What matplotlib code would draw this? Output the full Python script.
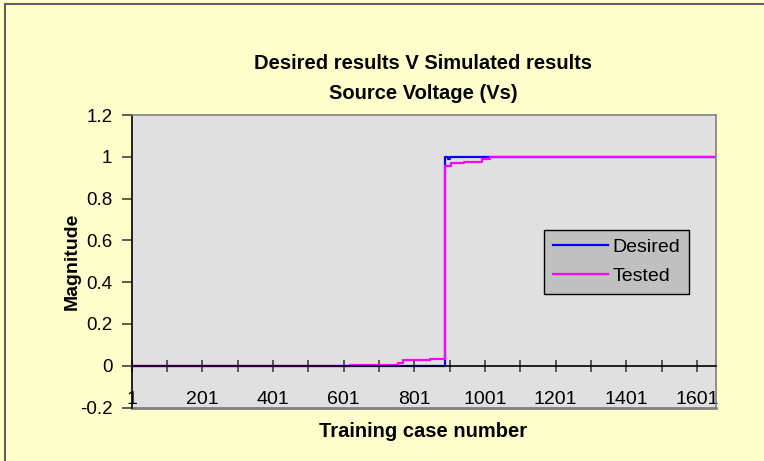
import matplotlib
matplotlib.use("Agg")
import matplotlib.pyplot as plt

plt.rcParams['font.family'] = ['Liberation Sans', 'DejaVu Sans']

# step breakpoints (training case number, magnitude)
desired_x = [1, 887, 897, 902, 1654]
desired_y = [0, 1.0, 0.99, 1.0, 1.0]
tested_x = [1, 620, 755, 768, 845, 887, 906, 941, 992, 1015, 1654]
tested_y = [0, 0.005, 0.013, 0.026, 0.032, 0.955, 0.968, 0.976, 0.988, 1.0, 1.0]

xticks = list(range(1, 1654, 100))
xlabels = [str(t) if (t - 1) % 200 == 0 else '' for t in xticks]
yticks = [-0.2, 0, 0.2, 0.4, 0.6, 0.8, 1, 1.2]
ylabels = ['-0.2', '0', '0.2', '0.4', '0.6', '0.8', '1', '1.2']

fig = plt.figure(figsize=(7.64, 4.61), dpi=100, facecolor='#FFFFCC')
ax = fig.add_axes([0.1724, 0.116, 0.7644, 0.6345])
ax.set_facecolor('#E0E0E0')

ax.plot(desired_x, desired_y, drawstyle='steps-post', color='#0000FF', lw=1.6, label='Desired')
ax.plot(tested_x, tested_y, drawstyle='steps-post', color='#FF00FF', lw=1.6, label='Tested')

ax.set_xlim(1, 1654)
ax.set_ylim(-0.2, 1.2)

ax.spines['bottom'].set_position(('data', 0))
ax.spines['bottom'].set_color('black')
ax.spines['left'].set_color('black')
ax.spines['top'].set_color('#808080')
ax.spines['right'].set_color('#808080')
for s in ax.spines.values():
    s.set_linewidth(1.2)
ax.axhline(-0.2, color='#808080', lw=2, clip_on=False)

ax.set_xticks(xticks)
ax.set_xticklabels(xlabels)
ax.set_yticks(yticks)
ax.set_yticklabels(ylabels)
ax.tick_params(axis='x', direction='inout', length=9, width=1.1, color='#303030',
               pad=13.5, labelsize=14)
ax.tick_params(axis='y', direction='out', length=7, width=1.1, color='#303030',
               pad=7, labelsize=13.5)

fig.text(0.554, 0.862, 'Desired results V Simulated results', ha='center', va='center',
         fontsize=14.5, fontweight='bold')
fig.text(0.554, 0.797, 'Source Voltage (Vs)', ha='center', va='center',
         fontsize=14.5, fontweight='bold')
fig.text(0.094, 0.434, 'Magnitude', rotation=90, ha='center', va='center',
         fontsize=14, fontweight='bold')
fig.text(0.554, 0.065, 'Training case number', ha='center', va='center',
         fontsize=14.5, fontweight='bold')

leg = ax.legend(loc='lower left', bbox_to_anchor=(0.7065, 0.388), fontsize=14,
                frameon=True, fancybox=False, handlelength=2.8, handletextpad=0.25,
                borderpad=0.45, labelspacing=0.6, borderaxespad=0)
leg.get_frame().set_facecolor('#C0C0C0')
leg.get_frame().set_edgecolor('black')
leg.get_frame().set_alpha(1)

# outer chart border (top and left visible)
fig.add_artist(plt.Line2D([0.006, 1], [0.991, 0.991], color='#606060', lw=1.5))
fig.add_artist(plt.Line2D([0.006, 0.006], [0, 0.991], color='#606060', lw=1.5))

fig.savefig('out.png', dpi=100, facecolor=fig.get_facecolor())
